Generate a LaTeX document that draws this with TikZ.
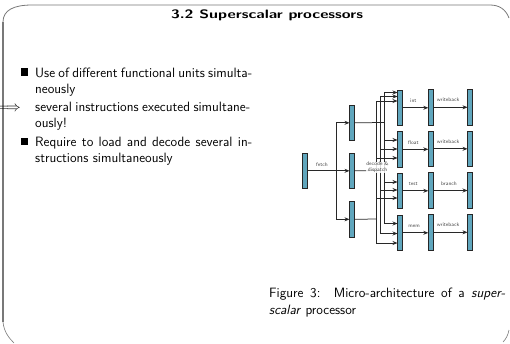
\documentclass[tikz,border=0pt]{standalone}
\usepackage{graphicx}
\usetikzlibrary{arrows.meta}
\renewcommand{\familydefault}{\sfdefault}
\definecolor{barblue}{RGB}{96,166,189}
\definecolor{framecol}{RGB}{120,120,120}
\definecolor{wirecol}{RGB}{40,40,40}
\definecolor{lblcol}{RGB}{70,70,70}
\tikzset{
  bar/.style={draw=black!85, fill=barblue, line width=0.6pt, minimum width=4.6pt, minimum height=35pt, inner sep=0pt, anchor=north west},
  wire/.style={draw=wirecol, line width=0.75pt},
  arr/.style={wire, -{Stealth[length=5pt,width=4pt]}},
  lbl/.style={font=\fontsize{5.3}{6}\selectfont, text=lblcol, inner sep=0.5pt},
  body/.style={font=\fontsize{13.5}{16}\selectfont, anchor=base west, inner sep=0pt},
}
\begin{document}
\begin{tikzpicture}[x=1pt,y=-1pt]
\useasboundingbox (0,0) rectangle (510,343);
% frame
\draw[framecol, line width=0.8pt] (3,22) .. controls (3,10) and (14,5) .. (32,5) -- (490,5) .. controls (500,5) and (506,10) .. (509,18);
\draw[framecol, line width=1.3pt] (3,22) -- (3,322);
\draw[framecol, line width=0.6pt] (3,322) .. controls (4,332) and (9,338) .. (14,343);
\draw[framecol, line width=0.6pt] (509,330) .. controls (508,335) and (506,339) .. (503,342);
% title
\node[font=\fontsize{14}{17}\selectfont\bfseries, inner sep=0pt] (title) at (267,15.5) {\resizebox{192pt}{!}{\scalebox{1}[0.76]{3.2 Superscalar processors}}};
% bullets
\node[fill=black, minimum size=7.5pt, inner sep=0pt] (sq1) at (24.5,72) {};
\node[body] (l1) at (35,77) {\makebox[217pt][s]{Use of different functional units simulta-}};
\node[body] (l2) at (35,93) {neously};
\node[body, anchor=base east] (arrw) at (21,111.5) {$\Longrightarrow$};
\node[body] (l3) at (35,111.5) {\makebox[215pt][s]{several instructions executed simultane-}};
\node[body] (l4) at (35,127.5) {ously!};
\node[fill=black, minimum size=7.5pt, inner sep=0pt] (sq2) at (24.5,141.5) {};
\node[body] (l5) at (35,146) {\makebox[217pt][s]{Require to load and decode several in-}};
\node[body] (l6) at (35,162) {structions simultaneously};
% caption
\node[body] (c1) at (269,297) {\makebox[236pt][s]{Figure 3:\ \ Micro-architecture of a \textit{super-}}};
\node[body] (c2) at (269,314.5) {\textit{scalar} processor};
% bars
\node[bar] (f0) at (302,153) {};
\node[bar] (d1) at (349.5,105) {};
\node[bar] (d2) at (349.5,153) {};
\node[bar] (d3) at (349.5,201.5) {};
\node[bar] (u1) at (397.5,90) {};
\node[bar] (u2) at (397.5,131.5) {};
\node[bar] (u3) at (397.5,173) {};
\node[bar] (u4) at (397.5,215) {};
\node[bar] (v1) at (428.3,89.5) {};
\node[bar] (v2) at (428.3,131) {};
\node[bar] (v3) at (428.3,172.7) {};
\node[bar] (v4) at (428.3,214.5) {};
\node[bar] (w1) at (467.5,89.5) {};
\node[bar] (w2) at (467.5,131) {};
\node[bar] (w3) at (467.5,172.7) {};
\node[bar] (w4) at (467.5,214.5) {};
% fetch
\coordinate (fj) at (336.7,170.5);
\draw[arr] (f0.east) -- (d2.west);
\draw[arr] (fj) |- (d1.west);
\draw[arr] (fj) |- (d3.west);
\node[lbl] (lfetch) at (322,164.5) {fetch};
% bus coordinates
\coordinate (bA) at (384,122.5);
\coordinate (bB) at (380,170.5);
\coordinate (bC) at (376,219);
\draw[wire] (d1.east) -- (bA);
\draw[wire] (d2.east) -- (bB);
\draw[wire] (d3.east) -- (bC);
% target rows
\coordinate (tA1) at (0,92.5);  \coordinate (tB1) at (0,96.5);  \coordinate (tC1) at (0,101);
\coordinate (tA2) at (0,140);   \coordinate (tB2) at (0,149);   \coordinate (tC2) at (0,158);
\coordinate (tA3) at (0,182);   \coordinate (tB3) at (0,190);   \coordinate (tC3) at (0,198);
\coordinate (tA4) at (0,223.5); \coordinate (tB4) at (0,233.5); \coordinate (tC4) at (0,243);
\draw[wire] (bA |- tA1) -- (bA |- tA4);
\draw[wire] (bB |- tB1) -- (bB |- tB4);
\draw[wire] (bC |- tC1) -- (bC |- tC4);
\foreach \b in {A,B,C}{
  \foreach \u in {1,2,3,4}{
    \draw[arr] (b\b |- t\b\u) -- (u\u.west |- t\b\u);
  }
}
\node[lbl, fill=white, fill opacity=0.85, text opacity=1, align=center, font=\fontsize{5.3}{6}\selectfont] (ldec) at (377.5,167.5) {decode \&\\dispatch};
% unit to stage arrows
\draw[arr] (u1.east) -- (v1.west |- u1.east);
\draw[arr] (u2.east) -- (v2.west |- u2.east);
\draw[arr] (u3.east) -- (v3.west |- u3.east);
\draw[arr] (u4.east) -- (v4.west |- u4.east);
\draw[arr] (v1.east) -- (w1.west |- v1.east);
\draw[arr] (v2.east) -- (w2.west |- v2.east);
\draw[arr] (v3.east) -- (w3.west |- v3.east);
\draw[arr] (v4.east) -- (w4.west |- v4.east);
\node[lbl] (lint) at (413.3,101) {int};
\node[lbl] (lwb1) at (448,100) {writeback};
\node[lbl] (lfloat) at (413.3,143) {float};
\node[lbl] (lwb2) at (448,142) {writeback};
\node[lbl] (ltest) at (413.3,184) {test};
\node[lbl] (lbranch) at (449,184) {branch};
\node[lbl] (lmem) at (414,226) {mem};
\node[lbl] (lwb3) at (448,225) {writeback};
% bars redrawn on top
\foreach \n in {f0,d1,d2,d3,u1,u2,u3,u4,v1,v2,v3,v4,w1,w2,w3,w4}{
  \draw[draw=black!85, fill=barblue, line width=0.6pt] (\n.north west) rectangle (\n.south east);
}
\end{tikzpicture}
\end{document}
